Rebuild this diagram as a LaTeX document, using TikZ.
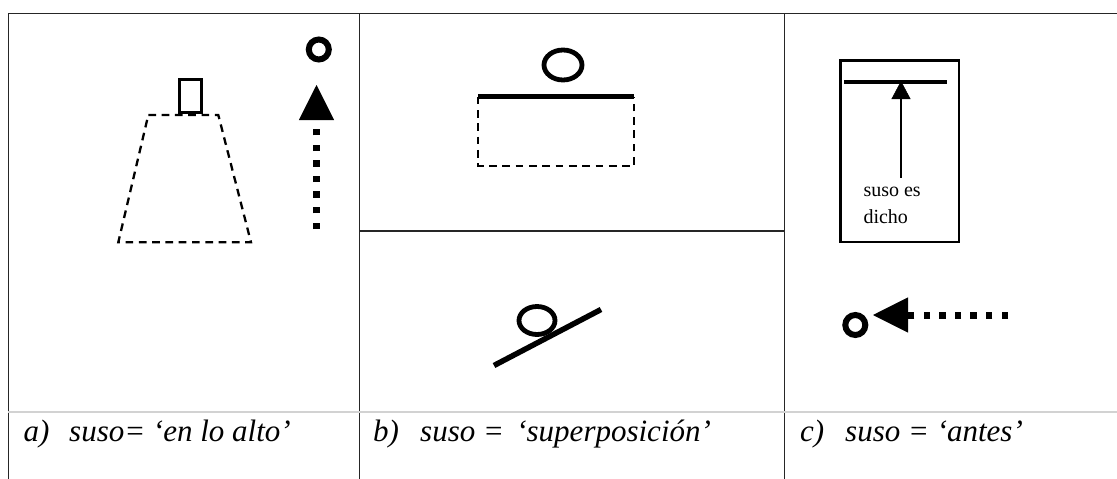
\documentclass[tikz,border=0pt]{standalone}
\usepackage{fontspec}
\setmainfont{Liberation Serif}
\usetikzlibrary{arrows.meta,shapes.geometric}

\begin{document}
\begin{tikzpicture}[x=1pt, y=-1pt,
  grid/.style={line width=1.4pt, black!85},
  ring/.style={circle, draw, line width=6pt, minimum size=20pt, inner sep=0pt},
  oval/.style={ellipse, draw, line width=4.8pt, inner sep=0pt},
  dashedge/.style={line width=2.3pt, dash pattern=on 7.7pt off 5.6pt},
  dotarrow/.style={line width=7pt, dash pattern=on 6.5pt off 9.1pt,
    -{Triangle[length=35pt, width=35pt, line width=0.5pt 0]}},
  caption/.style={anchor=base west, inner sep=0pt, font=\fontsize{31}{36}\selectfont\itshape},
  small/.style={anchor=base west, inner sep=0pt, font=\fontsize{20}{27}\selectfont}]
  \useasboundingbox (0,0) rectangle (1117,479);

  % table
  \draw[grid] (8.3,479) -- (8.3,13.3) -- (1117,13.3);
  \draw[grid] (359.3,13.3) -- (359.3,479);
  \draw[grid] (784.3,13.3) -- (784.3,479);
  \draw[grid] (359.3,231) -- (784.3,231);
  \draw[gray!35, line width=2pt] (8.3,412) -- (1117,412);

  % a) en lo alto
  \node[draw, line width=3.2pt, minimum width=21.4pt, minimum height=33.6pt, inner sep=0pt] (peak) at (190.5,96) {};
  \draw[dashedge] (148.3,115) -- (218.3,115) -- (251,242.3) -- (118.3,242.3) -- cycle;
  \node[ring] (topring) at (318.8,49.5) {};
  \coordinate (upfrom) at (316.5,229);
  \coordinate (upto) at (316.5,85);
  \draw[dotarrow] (upfrom) -- (upto);

  % b) superposicion
  \node[oval, minimum width=38pt, minimum height=30pt] (upper) at (563,65) {};
  \coordinate (barL) at (478.3,96.7);
  \coordinate (barR) at (634.3,96.7);
  \draw[dashedge] (barL) -- (478.3,165.7) -- (634.3,165.7) -- (barR);
  \draw[line width=5.5pt] (barL) -- (barR);
  \node[oval, minimum width=36pt, minimum height=28pt] (lower) at (537,320.5) {};
  \coordinate (slopeL) at (494,365.5);
  \coordinate (slopeR) at (601,309.5);
  \draw[line width=5.5pt] (slopeL) -- (slopeR);

  % c) antes
  \node[draw, line width=2.7pt, minimum width=118.8pt, minimum height=181.5pt, inner sep=0pt] (frame) at (899.7,151.3) {};
  \coordinate (limL) at (844,82.3);
  \coordinate (limR) at (947.3,82.3);
  \draw[line width=3.8pt] (limL) -- (limR);
  \coordinate (said) at (901,177.7);
  \coordinate (limit) at (901,81);
  \draw[line width=2.7pt, -{Triangle[length=18pt, width=19pt, line width=0.5pt 0]}] (said) -- (limit);
  \node[small] (saidA) at (863.3,196.7) {suso es};
  \node[small] (saidB) at (863.3,223.7) {dicho};
  \node[ring] (frontring) at (855.3,325) {};
  \coordinate (backfrom) at (1008,315);
  \coordinate (backto) at (873,315);
  \draw[dotarrow] (backfrom) -- (backto);

  % captions
  \node[caption] (capA) at (23.3,441) {a)};
  \node[caption] (textA) at (69,441) {suso= ‘en lo alto’};
  \node[caption] (capB) at (373,441) {b)};
  \node[caption] (textB) at (420,441) {suso =\hspace{0.4em}‘superposición’};
  \node[caption] (capC) at (800,441) {c)};
  \node[caption] (textC) at (845,441) {suso = ‘antes’};
\end{tikzpicture}
\end{document}
